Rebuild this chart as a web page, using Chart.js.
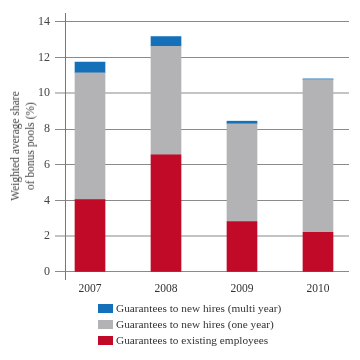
<!DOCTYPE html>
<html><head><meta charset="utf-8">
<script src="https://cdn.jsdelivr.net/npm/chart.js@4/dist/chart.umd.min.js"></script>
<style>
html,body{margin:0;padding:0;background:#fff;}
#wrap{position:relative;width:360px;height:360px;}
#c{position:absolute;left:0;top:0;}
#ytitle{position:absolute;left:23px;top:146px;transform:translate(-50%,-50%) rotate(-90deg);font-family:"Liberation Serif",serif;font-size:11.5px;line-height:15px;color:#444;text-align:center;white-space:nowrap;}
#legend{position:absolute;left:98px;top:300px;font-family:"Liberation Serif",serif;font-size:11.3px;color:#333;}
.item{display:flex;align-items:center;height:16px;}
.box{width:15px;height:9px;margin-right:3px;}
</style></head>
<body><div id="wrap"><canvas id="c" width="360" height="360"></canvas>
<div id="ytitle">Weighted average share<br>of bonus pools (%)</div>
<div id="legend"></div></div>
<script>
const categories = ["2007","2008","2009","2010"];
const existingEmployees = [4.05, 6.55, 2.82, 2.22];
const newHiresOneYear = [7.10, 6.09, 5.47, 8.55];
const newHiresMultiYear = [0.60, 0.54, 0.15, 0.04];
const yTicks = [0,2,4,6,8,10,12,14];
const seriesLabels = ["Guarantees to existing employees","Guarantees to new hires (one year)","Guarantees to new hires (multi year)"];
const colors = ["#c00a27","#b3b3b5","#1470b8"];

const toPts = arr => arr.map((v,i)=>({x:i,y:v}));
const serif = "'Liberation Serif', serif";
const lightLines = [2,10];

const chart = new Chart(document.getElementById('c'), {
  type:'bar',
  data:{datasets:[
    {label:seriesLabels[0],data:toPts(existingEmployees),backgroundColor:colors[0]},
    {label:seriesLabels[1],data:toPts(newHiresOneYear),backgroundColor:colors[1]},
    {label:seriesLabels[2],data:toPts(newHiresMultiYear),backgroundColor:colors[2]}
  ]},
  options:{
    responsive:false,animation:false,
    layout:{padding:{left:0,right:11,top:13,bottom:61}},
    datasets:{bar:{barThickness:30,borderWidth:0}},
    plugins:{legend:{display:false},tooltip:{enabled:false}},
    scales:{
      x:{type:'linear',stacked:true,offset:false,min:-0.329,max:3.408,
        grid:{display:false,drawTicks:false,offset:false},border:{display:false},
        afterBuildTicks:s=>{s.ticks=categories.map((c,i)=>({value:i}));},
        afterFit:s=>{s.height=20;},
        ticks:{padding:3,color:'#333',font:{family:serif,size:11.5},callback:v=>categories[v]}},
      y:{stacked:true,min:-0.4,max:14.5,
        afterBuildTicks:s=>{s.ticks=yTicks.map(v=>({value:v}));},
        afterFit:s=>{s.width=65;},
        border:{display:true,color:'#777',width:1},
        grid:{drawTicks:true,tickLength:10,
          color:ctx=>lightLines.includes(ctx.tick&&ctx.tick.value)?'#c4c4c4':'#8a8a8a',
          tickColor:ctx=>lightLines.includes(ctx.tick&&ctx.tick.value)?'#c4c4c4':'#8a8a8a',
          lineWidth:ctx=>lightLines.includes(ctx.tick&&ctx.tick.value)?2:1,
          tickWidth:ctx=>lightLines.includes(ctx.tick&&ctx.tick.value)?2:1},
        ticks:{padding:5,color:'#444',font:{family:serif,size:12}}}
    }
  }
});

const leg = document.getElementById('legend');
[2,1,0].forEach(i=>{
  const d = document.createElement('div'); d.className='item';
  const b = document.createElement('span'); b.className='box'; b.style.background=colors[i];
  const t = document.createElement('span'); t.textContent=seriesLabels[i];
  d.appendChild(b); d.appendChild(t); leg.appendChild(d);
});
</script></body></html>
